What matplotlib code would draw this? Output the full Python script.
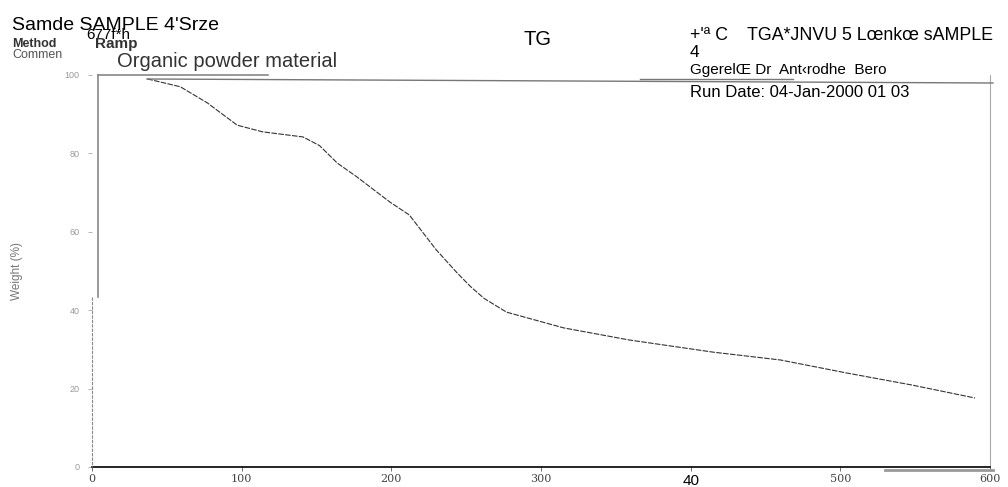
import numpy as np
import matplotlib.pyplot as plt
from matplotlib.lines import Line2D

plt.rcParams['font.family'] = ['Liberation Sans', 'DejaVu Sans']

# TGA curve
temp_c = [37, 59, 77, 97, 114, 141, 152, 164, 177, 199, 212, 230, 244, 253,
          262, 277, 315, 359, 415, 460, 504, 548, 590]
weight_pct = [99.0, 97.0, 92.9, 87.2, 85.5, 84.2, 82.0, 77.5, 74.0, 67.6, 64.3,
              55.4, 49.5, 46.0, 43.0, 39.5, 35.5, 32.4, 29.3, 27.3, 24.0, 20.9, 17.6]

x_ticks = [0, 100, 200, 300, 400, 500, 600]
x_labels = ['0', '100', '200', '300', '40', '500', '600']
y_ticks = [0, 20, 40, 60, 80, 100]

W, H = 1008, 487
fig = plt.figure(figsize=(W / 100, H / 100), dpi=100)
ax = fig.add_axes([92 / W, 20 / H, 898 / W, 392 / H])

ax.plot(temp_c, weight_pct, color='#333333', lw=0.8, ls=(0, (5, 1.2)))
ax.set_xlim(0, 600)
ax.set_ylim(0, 100)

ax.set_xticks(x_ticks)
ax.set_xticklabels(x_labels, fontsize=8, color='#444444', family='DejaVu Serif')
ax.set_yticks(y_ticks)
ax.set_yticklabels([str(v) for v in y_ticks], fontsize=6.5, color='#999999')
ax.tick_params(axis='x', direction='out', length=3, width=0.6, color='#555555', pad=2)
ax.tick_params(axis='y', direction='out', length=3, width=0.6, color='#aaaaaa', pad=6)
lbl40 = ax.get_xticklabels()[4]
lbl40.set_fontsize(11)
lbl40.set_color('black')
lbl40.set_family('Liberation Sans')

for s in ['top', 'left']:
    ax.spines[s].set_visible(False)
ax.spines['bottom'].set_color('black')
ax.spines['bottom'].set_linewidth(1.2)
ax.spines['right'].set_color('#aaaaaa')
ax.spines['right'].set_linewidth(0.8)
ax.spines['right'].set_linestyle((0, (3, 1)))

ax.set_ylabel('Weight (%)', fontsize=8.5, color='#777777', labelpad=30)


def fline(x0, y0, x1, y1, **kw):
    fig.add_artist(Line2D([x0 / W, x1 / W], [1 - y0 / H, 1 - y1 / H], **kw))


# broken frame of the scanned sheet
fline(98, 75, 268, 75, color='#888888', lw=1.2)
fline(147, 79, 993, 83, color='#777777', lw=1.0)
fline(640, 79, 793, 79, color='#777777', lw=1.0)
fline(98, 75, 98, 297, color='#888888', lw=1.2)
fline(92, 297, 92, 467, color='#888888', lw=0.8, ls=(0, (3, 1)))
fline(885, 470, 993, 470, color='#999999', lw=2.0)


def ftext(x, y, s, **kw):
    fig.text(x / W, 1 - y / H, s, va='baseline', **kw)


ftext(12, 30, "Samde SAMPLE 4'Srze", fontsize=14)
ftext(86, 39, "677f*h", fontsize=11)
ftext(12, 47, "Method", fontsize=9, color='#333333', fontweight='bold')
ftext(95, 48, "Ramp", fontsize=11, color='#333333', fontweight='bold')
ftext(12, 58, "Commen", fontsize=9, color='#555555')
ftext(117, 67, "Organic powder material", fontsize=14.5, color='#333333')
ftext(537, 45, "TG", fontsize=14.5, ha='center')
ftext(690, 40, "+'ª C    TGA*JNVU 5 Lœnkœ sAMPLE", fontsize=12.8)
ftext(690, 57, "4", fontsize=12.5)
ftext(690, 74, "GgerelŒ Dr  Ant‹rodhe  Bero", fontsize=11)
ftext(690, 97, "Run Date: 04-Jan-2000 01 03", fontsize=12)

fig.savefig('out.png', dpi=100)
